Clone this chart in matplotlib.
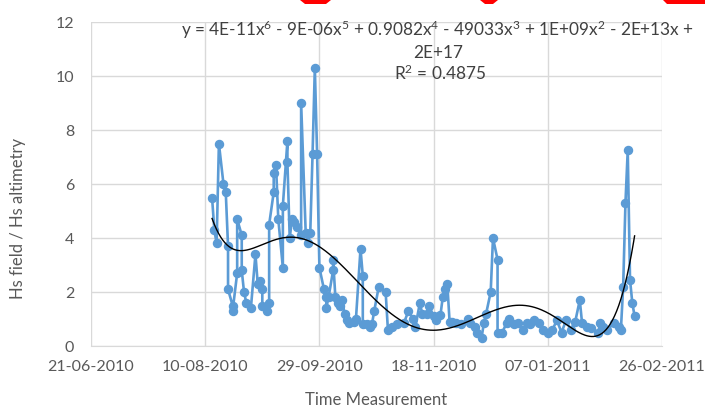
import numpy as np
import pandas as pd
import matplotlib
matplotlib.use("Agg")
import matplotlib.pyplot as plt
import matplotlib.dates as mdates
from matplotlib.patches import Polygon

plt.rcParams['font.family'] = ['Lato', 'DejaVu Sans']
plt.rcParams['mathtext.fontset'] = 'custom'
plt.rcParams['mathtext.rm'] = 'Lato'
plt.rcParams['mathtext.it'] = 'Lato'

# ---- data ----
dates = [
    "2010-08-13", "2010-08-14", "2010-08-15", "2010-08-16", "2010-08-18", "2010-08-19",
    "2010-08-20", "2010-08-20", "2010-08-22", "2010-08-22", "2010-08-24", "2010-08-24",
    "2010-08-26", "2010-08-26", "2010-08-27", "2010-08-28", "2010-08-30", "2010-09-01",
    "2010-09-02", "2010-09-03", "2010-09-04", "2010-09-04", "2010-09-06", "2010-09-07",
    "2010-09-07", "2010-09-09", "2010-09-09", "2010-09-10", "2010-09-11", "2010-09-13",
    "2010-09-13", "2010-09-15", "2010-09-15", "2010-09-16", "2010-09-17", "2010-09-18",
    "2010-09-19", "2010-09-21", "2010-09-21", "2010-09-23", "2010-09-24", "2010-09-25",
    "2010-09-26", "2010-09-27", "2010-09-28", "2010-09-29", "2010-10-01", "2010-10-02",
    "2010-10-02", "2010-10-03", "2010-10-05", "2010-10-05", "2010-10-06", "2010-10-07",
    "2010-10-08", "2010-10-09", "2010-10-10", "2010-10-11", "2010-10-12", "2010-10-14",
    "2010-10-15", "2010-10-17", "2010-10-18", "2010-10-18", "2010-10-20", "2010-10-21",
    "2010-10-22", "2010-10-23", "2010-10-25", "2010-10-28", "2010-10-29", "2010-10-31",
    "2010-11-02", "2010-11-05", "2010-11-07", "2010-11-09", "2010-11-10", "2010-11-12",
    "2010-11-13", "2010-11-15", "2010-11-16", "2010-11-18", "2010-11-19", "2010-11-21",
    "2010-11-22", "2010-11-23", "2010-11-24", "2010-11-25", "2010-11-26", "2010-11-28",
    "2010-11-30", "2010-12-03", "2010-12-04", "2010-12-06", "2010-12-07", "2010-12-09",
    "2010-12-10", "2010-12-11", "2010-12-13", "2010-12-14", "2010-12-16", "2010-12-16",
    "2010-12-18", "2010-12-20", "2010-12-21", "2010-12-23", "2010-12-25", "2010-12-27",
    "2010-12-29", "2010-12-30", "2011-01-01", "2011-01-03", "2011-01-05", "2011-01-07",
    "2011-01-09", "2011-01-11", "2011-01-13", "2011-01-15", "2011-01-17", "2011-01-19",
    "2011-01-21", "2011-01-22", "2011-01-24", "2011-01-26", "2011-01-29", "2011-01-30",
    "2011-01-31", "2011-02-02", "2011-02-05", "2011-02-07", "2011-02-08", "2011-02-09",
    "2011-02-10", "2011-02-11", "2011-02-12", "2011-02-13", "2011-02-14",
]
hs_ratio = [
    5.5, 4.3, 3.8, 7.5, 6.0, 5.7,
    3.7, 2.1, 1.5, 1.3, 2.7, 4.7,
    4.1, 2.8, 2.0, 1.6, 1.4, 3.4,
    2.3, 2.4, 2.1, 1.5, 1.3, 1.6,
    4.5, 5.7, 6.4, 6.7, 4.7, 2.9,
    5.2, 7.6, 6.8, 4.0, 4.7, 4.6,
    4.4, 4.1, 9.0, 4.2, 3.8, 4.2,
    7.1, 10.3, 7.1, 2.9, 2.1, 1.8,
    1.4, 1.8, 2.8, 3.2, 1.8, 1.6,
    1.5, 1.7, 1.2, 0.95, 0.85, 0.9,
    1.0, 3.6, 2.6, 0.8, 0.8, 0.7,
    0.8, 1.3, 2.2, 2.0, 0.6, 0.7,
    0.8, 0.85, 1.3, 1.0, 0.7, 1.6,
    1.2, 1.2, 1.5, 1.1, 0.95, 1.15,
    1.8, 2.1, 2.3, 0.9, 0.9, 0.85,
    0.8, 1.0, 0.85, 0.7, 0.5, 0.3,
    0.85, 1.2, 2.0, 4.0, 3.2, 0.5,
    0.5, 0.85, 1.0, 0.8, 0.85, 0.6,
    0.85, 0.8, 0.95, 0.85, 0.6, 0.5,
    0.6, 0.95, 0.5, 0.95, 0.6, 0.9,
    1.7, 0.85, 0.7, 0.65, 0.5, 0.85,
    0.7, 0.6, 0.85, 0.7, 0.6, 2.2,
    5.3, 7.25, 2.45, 1.6, 1.1,
]
x_ticks = ["2010-06-21", "2010-08-10", "2010-09-29", "2010-11-18", "2011-01-07", "2011-02-26"]
y_ticks = [0, 2, 4, 6, 8, 10, 12]
equation = ("y = 4E-11x$^{6}$ - 9E-06x$^{5}$ + 0.9082x$^{4}$ - 49033x$^{3}$ + 1E+09x$^{2}$ - 2E+13x +\n"
            "2E+17")
r2_text = "R$^{2}$ = 0.4875"
x_title = "Time Measurement"
y_title = "Hs field / Hs altimetry"

# ---- figure ----
W, H = 705, 408
fig = plt.figure(figsize=(W / 100, H / 100), dpi=100)
ax = fig.add_axes([91 / W, 1 - 346 / H, (662 - 91) / W, (346 - 22) / H])

t = pd.to_datetime(dates)
tn = mdates.date2num(t)
ax.plot(t, hs_ratio, color="#5B9BD5", lw=1.9, marker="o", ms=5.8,
        mec="#5B9BD5", mfc="#5B9BD5", zorder=3)

# 6th order polynomial trendline fitted to the data
c = tn.mean()
coef = np.polyfit(tn - c, hs_ratio, 6)
xs = np.linspace(tn.min(), tn.max(), 400)
ax.plot(mdates.num2date(xs), np.polyval(coef, xs - c), color="black", lw=1.0, zorder=4)

xt = pd.to_datetime(x_ticks)
ax.set_xlim(xt[0], xt[-1])
ax.set_ylim(0, 12)
ax.set_xticks(xt)
ax.xaxis.set_major_formatter(mdates.DateFormatter("%d-%m-%Y"))
ax.set_yticks(y_ticks)
ax.grid(True, color="#D9D9D9", lw=1.0)
ax.set_axisbelow(True)
for s in ["top", "right", "left"]:
    ax.spines[s].set_visible(False)
ax.spines["bottom"].set_color("#D9D9D9")
ax.tick_params(length=0, labelsize=11.5, labelcolor="#595959")
ax.tick_params(axis="x", pad=10)
ax.tick_params(axis="y", pad=12)

fig.text(376 / W, 1 - 400 / H, x_title, ha="center", va="center", fontsize=12, color="#595959")
fig.text(18 / W, 1 - 218 / H, y_title, ha="center", va="center", rotation=90,
         fontsize=12, color="#595959")

fig.text(438 / W, 1 - 19 / H, equation, ha="center", va="top", fontsize=12.4,
         color="#404040", linespacing=1.25)
fig.text(440 / W, 1 - 73 / H, r2_text, ha="center", va="center", fontsize=12.4, color="#404040")

# red highlight fragments along top edge
for pts in [[(300, 0), (331, 0), (326, 4), (305, 4)],
            [(480, 0), (498, 0), (493, 4), (485, 4)],
            [(663, 0), (705, 0), (705, 4), (667, 4)]]:
    fig.patches.append(Polygon([(x / W, 1 - y / H) for x, y in pts], closed=True,
                               transform=fig.transFigure, color="#FF0000", lw=0))

fig.savefig("out.png", dpi=100)
